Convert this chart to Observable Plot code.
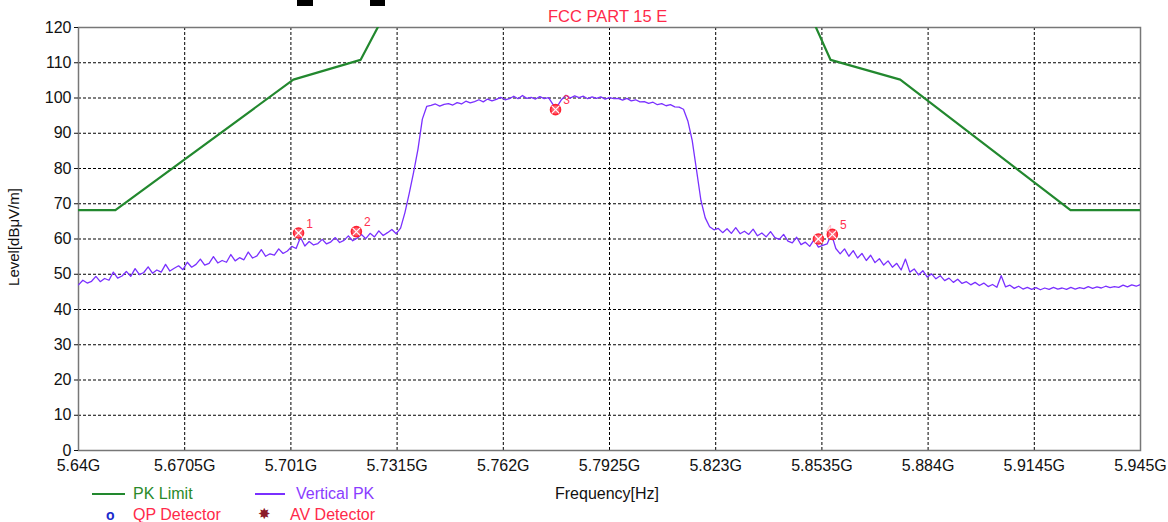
<!DOCTYPE html>
<html><head><meta charset="utf-8">
<script src="https://cdn.jsdelivr.net/npm/d3@7"></script>
<script src="https://cdn.jsdelivr.net/npm/@observablehq/plot@0.6"></script>
<style>
body{margin:0;background:#fff;font-family:Arial,"Liberation Sans",sans-serif;}
#wrap{position:relative;width:1168px;height:522px;overflow:hidden;background:#fff}
#chart{position:absolute;left:0;top:0}
.t{position:absolute;white-space:nowrap;font-size:16px;line-height:16px}
.ln{position:absolute;height:2px}
.blk{position:absolute;background:#000;height:6px;top:0}
</style></head><body>
<div id="wrap">
<div id="chart"></div>
<div class="blk" style="left:297px;width:16px"></div>
<div class="blk" style="left:370px;width:15px"></div>
<div class="t" style="left:548px;top:8px;font-size:16.5px;color:#ff2a4a">FCC PART 15 E</div>
<div class="t" style="left:14px;top:237px;font-size:15px;transform:translate(-50%,-50%) rotate(-90deg);color:#111">Level[dBμV/m]</div>
<div class="ln" style="left:92px;top:493px;width:33px;background:#22882e"></div>
<div class="t" style="left:133px;top:486px;color:#2a8a2a">PK Limit</div>
<div class="ln" style="left:255px;top:493px;width:30px;background:#7a30ff"></div>
<div class="t" style="left:296px;top:486px;color:#8a3cff">Vertical PK</div>
<div class="t" style="left:555px;top:486px;color:#111">Frequency[Hz]</div>
<div class="t" style="left:106px;top:507px;color:#1a2acc;font-weight:bold;font-size:14px">o</div>
<div class="t" style="left:133px;top:507px;color:#ff2a4a">QP Detector</div>
<div class="t" style="left:258px;top:506px;color:#8b1a2a;font-size:15px">✸</div>
<div class="t" style="left:290px;top:507px;color:#ff2a4a">AV Detector</div>
</div>
<script>
// ---- data ----
const xTicks = [5.64, 5.6705, 5.701, 5.7315, 5.762, 5.7925, 5.823, 5.8535, 5.884, 5.9145, 5.945];
const xTickLabels = ["5.64G","5.6705G","5.701G","5.7315G","5.762G","5.7925G","5.823G","5.8535G","5.884G","5.9145G","5.945G"];
const yTicks = [0,10,20,30,40,50,60,70,80,90,100,110,120];

// PK limit (FCC Part 15 E band edge mask, as drawn)
const limitFreq  = [5.64, 5.6506, 5.7017, 5.7210, 5.7271, 5.8508, 5.8560, 5.8760, 5.9249, 5.945];
const limitLevel = [68.2, 68.2, 105.2, 110.8, 122.2, 122.2, 110.8, 105.2, 68.2, 68.2];
const limitSeg   = ["L","L","L","L","L","R","R","R","R","R"];

// Vertical PK trace: sweep start / step (GHz) and levels (dBuV/m)
const sweepStart = 5.64;
const sweepStep = 0.00125;
const traceLevel = [
/* 0 */  47.0,48.3,47.5,48.0,49.4,47.9,48.8,48.3,50.6,48.9,
/* 10 */ 49.5,50.8,49.4,51.6,49.9,50.5,52.1,50.3,51.2,50.6,
/* 20 */ 52.8,50.9,51.7,52.4,51.3,53.4,52.0,52.8,54.3,52.6,
/* 30 */ 53.1,55.0,53.2,53.9,53.4,55.6,53.8,54.7,54.1,56.3,
/* 40 */ 54.6,55.2,57.0,55.1,55.8,55.4,57.2,55.9,56.6,57.9,
/* 50 */ 57.3,60.5,58.0,59.3,58.3,58.7,59.9,58.6,59.2,60.4,
/* 60 */ 59.0,59.6,60.9,59.5,60.2,61.3,60.1,61.6,60.6,62.3,
/* 70 */ 61.0,61.8,62.7,61.5,63.1,67.5,73.0,79.0,85.5,94.0,
/* 80 */ 97.6,97.9,98.3,97.7,98.2,98.4,98.0,98.7,98.3,99.1,
/* 90 */ 98.6,99.0,99.5,98.9,99.7,99.2,99.6,100.2,99.5,99.8,
/* 100 */100.5,99.8,100.7,99.9,100.2,99.7,100.4,99.8,100.1,98.2,
/* 110 */97.6,99.6,100.8,100.0,100.6,100.1,100.5,99.8,100.3,99.9,
/* 120 */100.3,99.7,100.1,99.8,99.9,99.4,99.9,99.2,99.5,98.9,
/* 130 */99.0,98.5,98.8,98.1,98.4,97.8,98.1,97.5,97.4,96.8,
/* 140 */93.5,88.0,79.5,71.0,66.0,63.5,62.6,63.0,61.8,62.9,
/* 150 */61.6,63.2,61.5,62.2,61.3,62.8,60.9,61.7,60.6,62.1,
/* 160 */60.4,59.9,61.3,59.4,58.9,60.5,58.4,59.1,57.9,59.8,
/* 170 */57.7,58.2,58.6,61.4,57.3,55.8,57.2,55.1,56.7,54.6,
/* 180 */55.9,53.9,55.4,53.3,54.4,52.6,53.8,52.0,53.1,51.2,
/* 190 */54.3,50.6,51.5,49.8,51.0,49.2,50.1,48.7,49.6,48.2,
/* 200 */48.9,47.7,48.6,47.4,47.9,47.0,47.7,46.8,47.5,46.5,
/* 210 */47.1,46.3,49.6,46.4,46.9,46.0,46.6,45.8,46.3,45.7,
/* 220 */46.2,45.6,46.1,45.7,46.3,45.8,46.1,45.7,46.3,45.8,
/* 230 */46.2,45.9,46.5,46.0,46.4,46.1,46.6,46.2,46.5,46.3,
/* 240 */46.9,46.4,47.0,46.6,47.1
];

// marker points
const markerNo    = ["1","2","3","4","5"];
const markerFreq  = [5.7032, 5.7198, 5.7770, 5.8525, 5.8565];
const markerLevel = [61.7, 62.1, 96.7, 60.0, 61.3];

// ---- build tables ----
const trace = traceLevel.map((v,i)=>({f: sweepStart + i*sweepStep, v}));
const limit = limitFreq.map((f,i)=>({f, v: limitLevel[i], s: limitSeg[i]}));
const markers = markerNo.map((n,i)=>({n, f: markerFreq[i], v: markerLevel[i]}));

const fmtX = d => { const i = xTicks.findIndex(t => Math.abs(t-d) < 1e-6); return i >= 0 ? xTickLabels[i] : ""; };

const chart = Plot.plot({
  width: 1168, height: 480,
  marginLeft: 78, marginRight: 28, marginTop: 27, marginBottom: 30,
  style: {fontFamily: "Arial, 'Liberation Sans', sans-serif", fontSize: "16px", color: "#111", background: "#fff"},
  x: {domain: [5.64, 5.945]},
  y: {domain: [0, 120]},
  marks: [
    Plot.ruleX(xTicks.slice(1,-1), {stroke: "#000", strokeDasharray: "3,2", strokeWidth: 1}),
    Plot.ruleY(yTicks.slice(1,-1), {stroke: "#000", strokeDasharray: "3,2", strokeWidth: 1}),
    Plot.frame({stroke: "#777", strokeWidth: 1.5}),
    Plot.axisY({ticks: yTicks, tickSize: 4, tickPadding: 3, label: null}),
    Plot.axisX({ticks: xTicks, tickFormat: fmtX, tickSize: 0, tickPadding: 9, label: null}),
    Plot.line(limit, {x: "f", y: "v", z: "s", stroke: "#22882e", strokeWidth: 2.2, clip: true}),
    Plot.line(trace, {x: "f", y: "v", stroke: "#7a30ff", strokeWidth: 1.3, clip: true}),
    Plot.dot(markers, {x: "f", y: "v", r: 5, stroke: "#ff2030", strokeWidth: 1.6, fill: "#ff6070"}),
    Plot.dot(markers, {x: "f", y: "v", r: 3.5, symbol: "times", stroke: "#fff", strokeWidth: 1.2}),
    Plot.text(markers, {x: "f", y: "v", text: "n", dx: 11, dy: -9, fill: "#ff3050", fontSize: 12,
      fillOpacity: d => d.n === "4" ? 0.35 : 1})
  ]
});
document.getElementById("chart").appendChild(chart);
</script>
</body></html>
